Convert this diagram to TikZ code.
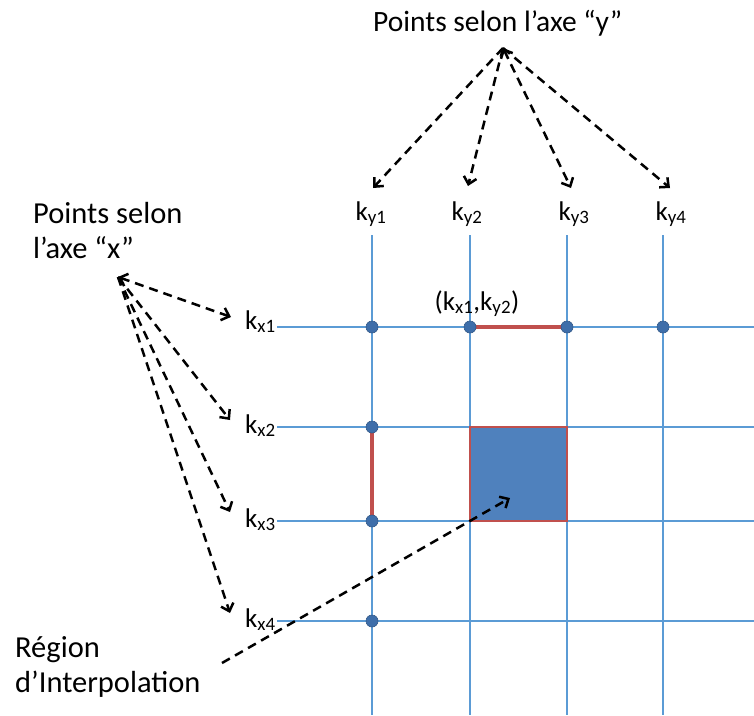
\documentclass[tikz,border=0pt]{standalone}
\usepackage{fontspec}
\setmainfont{Carlito}
\usetikzlibrary{arrows.meta}
\definecolor{gridblue}{RGB}{91,155,213}
\definecolor{dotblue}{RGB}{62,110,170}
\definecolor{fillblue}{RGB}{79,129,189}
\definecolor{edgered}{RGB}{192,80,77}
\begin{document}
\begin{tikzpicture}[x=1pt,y=-1pt,
  gridline/.style={draw=gridblue,line width=1.8pt},
  kdot/.style={circle,fill=dotblue,draw=dotblue!80!black,line width=0.6pt,inner sep=0pt,minimum size=12pt},
  redseg/.style={draw=edgered,line width=4pt},
  darrow/.style={draw=black,dash pattern=on 9pt off 6pt,line width=2.5pt,-{Straight Barb[length=7pt,width=13pt]}},
  darrowb/.style={draw=black,dash pattern=on 9pt off 6pt,line width=2.5pt,{Straight Barb[length=7pt,width=13pt]}-{Straight Barb[length=7pt,width=13pt]}},
  lbl/.style={font=\fontsize{29.5}{34}\selectfont,inner sep=0pt},
  xlbl/.style={font=\fontsize{30.5}{35}\selectfont,inner sep=0pt,align=left,anchor=base west},
  klbl/.style={font=\fontsize{27}{30}\selectfont,inner sep=0pt}]
\useasboundingbox (0,0) rectangle (754,715);
% grid
\foreach \x in {372,470,567,663} {\draw[gridline] (\x,235) -- (\x,715);}
\foreach \y in {327,427,521,621} {\draw[gridline] (277,\y) -- (754,\y);}
% red segments and region
\draw[redseg] (470,327) -- (567,327);
\draw[redseg] (372,427) -- (372,521);
\node[draw=edgered,line width=2.5pt,fill=fillblue,minimum width=97pt,minimum height=94pt,inner sep=0pt] (reg) at (518.5,474) {};
% dots
\node[kdot] (d11) at (372,327) {};
\node[kdot] (d12) at (470,327) {};
\node[kdot] (d13) at (567,327) {};
\node[kdot] (d14) at (663,327) {};
\node[kdot] (d21) at (372,427) {};
\node[kdot] (d31) at (372,521) {};
\node[kdot] (d41) at (372,621) {};
% labels
\node[klbl,anchor=base] (ky1) at (371,220) {k$_{\mathrm{y1}}$};
\node[klbl,anchor=base] (ky2) at (467,220) {k$_{\mathrm{y2}}$};
\node[klbl,anchor=base] (ky3) at (574,220) {k$_{\mathrm{y3}}$};
\node[klbl,anchor=base] (ky4) at (671,220) {k$_{\mathrm{y4}}$};
\node[klbl,anchor=base west] (kx1) at (245,329) {k$_{\mathrm{x1}}$};
\node[klbl,anchor=base west] (kx2) at (245,433) {k$_{\mathrm{x2}}$};
\node[klbl,anchor=base west] (kx3) at (245,527) {k$_{\mathrm{x3}}$};
\node[klbl,anchor=base west] (kx4) at (245,627) {k$_{\mathrm{x4}}$};
\node[klbl,anchor=base] (pair) at (477,310) {(k$_{\mathrm{x1}}$,k$_{\mathrm{y2}}$)};
\node[lbl,anchor=base west] (ptsy) at (373,31) {Points selon l’axe “y”};
\node[xlbl] (ptsx) at (33,258) {Points selon\\l’axe “x”};
\node[xlbl] (regl) at (15,692) {Région\\d’Interpolation};
% arrows
\coordinate (oy) at (503,48);
\coordinate (ox) at (118,277);
\draw[darrow] (oy) -- (373,188);
\draw[darrow] (oy) -- (468,186);
\draw[darrowb] (oy) -- (571,188);
\draw[darrow] (oy) -- (670,188);
\draw[darrowb] (ox) -- (231,317);
\draw[darrow] (ox) -- (230,420);
\draw[darrow] (ox) -- (230,512);
\draw[darrow] (ox) -- (230,613);
\coordinate (rs) at (222,663);
\draw[darrow] (rs) -- (510,498);
\end{tikzpicture}
\end{document}
